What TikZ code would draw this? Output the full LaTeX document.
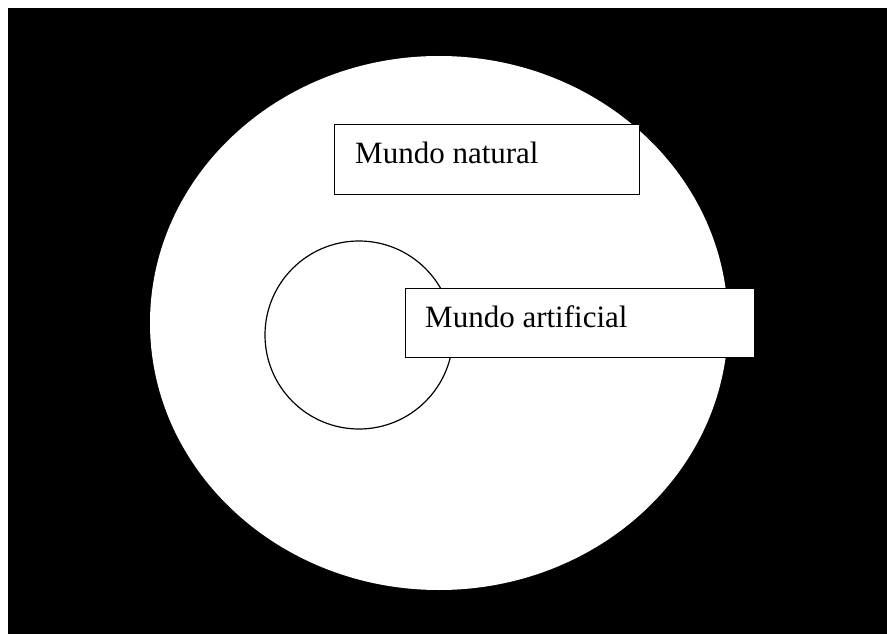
\documentclass[tikz,border=0pt]{standalone}
\usepackage{fontspec}
\setmainfont{Liberation Serif}

\begin{document}
\begin{tikzpicture}[x=1pt,y=-1pt]

    \tikzset{
      BoxStyle/.style = { rectangle, draw, fill = white, line width = 1.2pt,
                          anchor = north west, inner sep = 0pt },
      TextStyle/.style = { anchor = base west, inner sep = 0pt,
                          font = \fontsize{31}{37}\selectfont },
      CircleStyle/.style = { circle, draw, line width = 1.2pt,
                          inner sep = 0pt, minimum size = 188pt } }

      \useasboundingbox (0,0) rectangle (887,634);

      % background and the big world
      \fill[black] (8,8) rectangle (887,634);
      \fill[white] (439,323) ellipse [x radius = 289, y radius = 267];

      \node[CircleStyle] (ring) at (359,335) {};

      \node[BoxStyle, minimum width = 305pt, minimum height = 70pt] (natural) at (334,124) {};
      \node[TextStyle] (tnatural) at (355,164) {Mundo natural};

      \node[BoxStyle, minimum width = 349pt, minimum height = 69pt] (artificial) at (405,288) {};
      \node[TextStyle] (tartificial) at (425,327) {Mundo artificial};

\end{tikzpicture}
\end{document}
